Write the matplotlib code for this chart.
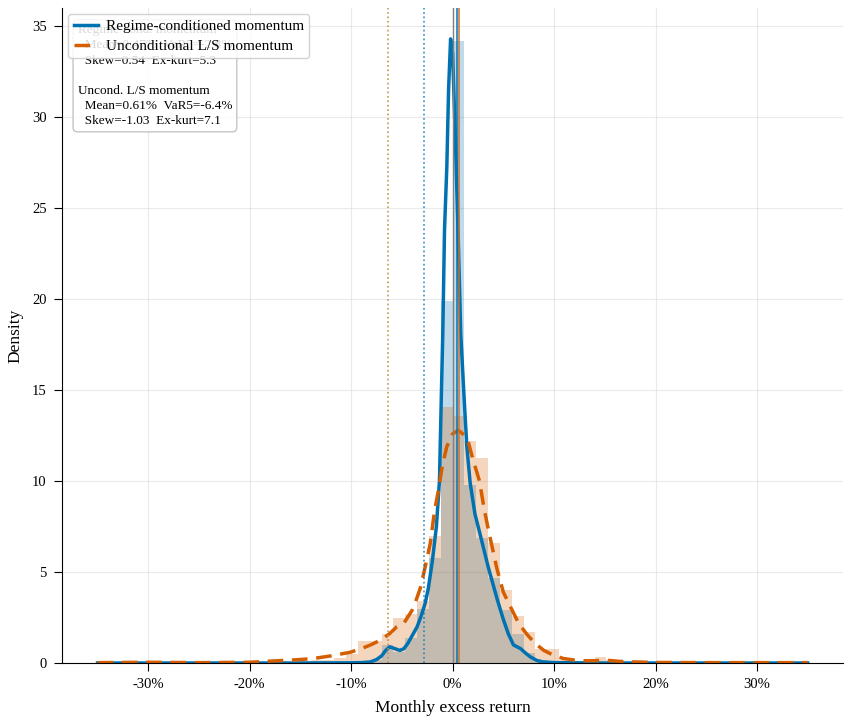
import numpy as np
import matplotlib
matplotlib.use("Agg")
import matplotlib.pyplot as plt
from matplotlib.ticker import FuncFormatter

plt.rcParams['font.family'] = ['Liberation Serif', 'DejaVu Serif']

# shared histogram bins (monthly return, %)
bin_edges = np.linspace(-35, 35, 61)

# histogram heights, one per bin (density)
regime_hist = [0]*22 + [0.05, 0.2, 1.0, 0.6, 1.4, 3.0, 5.8, 19.9,
                        34.2, 9.8, 6.9, 4.7, 2.9, 1.6, 0.55, 0.15, 0.05] + [0]*21
uncond_hist = ([0, 0, 0, 0, 0.05, 0, 0, 0, 0, 0.03, 0, 0, 0, 0, 0, 0.1, 0, 0.1,
                0.2, 0.2, 0.3, 0.5, 1.2, 1.2, 1.6, 2.5, 2.7, 3.4, 7.0, 14.1,
                13.6, 12.2, 11.3, 6.6, 4.0, 2.6, 1.7, 0.8, 0.8, 0.15, 0.1, 0.15,
                0.35, 0.2, 0.05, 0, 0, 0.03] + [0]*12)

# KDE curves
regime_kde_x = [-35, -25, -15, -10, -9, -8.1, -7.5, -7, -6.6, -6.2, -5.7, -5.2, -4.8,
                -4.4, -4.0, -3.5, -3.1, -2.7, -2.4, -2.0, -1.6, -1.3, -1.1, -0.97,
                -0.8, -0.57, -0.4, -0.2, 0.0, 0.2, 0.35, 0.57, 0.8, 1.0, 1.14, 1.4,
                1.73, 2.2, 2.7, 3.5, 4.4, 5.0, 5.5, 6.0, 6.7, 7.2, 7.65, 8.3, 8.9,
                10, 15, 35]
regime_kde_y = [0.01, 0.01, 0.01, 0.02, 0.03, 0.07, 0.2, 0.4, 0.7, 0.9, 0.8, 0.7, 0.8,
                1.1, 1.5, 2.0, 2.6, 3.3, 4.1, 5.6, 7.5, 10.0, 15.0, 18.1,
                23.8, 27.3, 31.5, 34.3, 33.5, 30.0, 27.3, 23.0, 18.1, 16.0, 14.5, 11.9,
                9.9, 8.2, 7.1, 5.3, 3.5, 2.4, 1.6, 1.0, 0.8, 0.55, 0.35, 0.15, 0.07,
                0.03, 0.01, 0.01]

uncond_kde_x = [-35, -30, -25, -20, -17.4, -15, -13.7, -12, -10.1, -9, -8.1, -7, -6.2,
                -5.5, -4.8, -4.0, -3.7, -3.2, -2.7, -2.2, -1.8, -1.4, -1.0, -0.57,
                0.0, 0.57, 1.0, 1.57, 2.0, 2.65, 3.1, 3.5, 4.36, 5.0, 5.7, 6.5, 7.3,
                8.1, 9.0, 10.0, 10.9, 12, 13.2, 14.2, 15.2, 16.5, 17.8, 20, 25, 30, 35]
uncond_kde_y = [0.03, 0.05, 0.03, 0.05, 0.13, 0.2, 0.26, 0.4, 0.6, 0.8, 1.0, 1.3, 1.63,
                2.0, 2.2, 2.9, 3.3, 4.1, 5.3, 6.6, 8.3, 9.5, 10.9, 11.9,
                12.6, 12.8, 12.6, 12.1, 11.2, 10.0, 8.5, 7.4, 5.2, 3.9, 3.1, 2.2, 1.6,
                1.1, 0.7, 0.42, 0.26, 0.17, 0.13, 0.14, 0.16, 0.1, 0.07, 0.04, 0.03, 0.03, 0.03]

regime_mean, regime_var5 = 0.47, -2.8
uncond_mean, uncond_var5 = 0.61, -6.4

stats_text = ("Regime-cond. momentum\n  Mean=0.47%  VaR5=-2.8%\n  Skew=0.54  Ex-kurt=5.3\n\n"
              "Uncond. L/S momentum\n  Mean=0.61%  VaR5=-6.4%\n  Skew=-1.03  Ex-kurt=7.1")

blue = '#0072B2'
orange = '#D55E00'

fig = plt.figure(figsize=(8.5, 7.24), dpi=100)
ax = fig.add_axes([0.073, 0.084, 0.919, 0.905])

centers = bin_edges[:-1]
ax.hist(centers, bins=bin_edges, weights=regime_hist, color=blue, alpha=0.25)
ax.hist(centers, bins=bin_edges, weights=uncond_hist, color=orange, alpha=0.25)

ax.plot(regime_kde_x, regime_kde_y, color=blue, lw=2.5, label='Regime-conditioned momentum')
ax.plot(uncond_kde_x, uncond_kde_y, color=orange, lw=2.5, ls=(0, (4.5, 2.5)),
        label='Unconditional L/S momentum')

ax.axvline(0, color='gray', lw=1)
ax.axvline(regime_mean, color=blue, lw=1.2, alpha=0.9)
ax.axvline(uncond_mean, color='#C8702E', lw=1.2, alpha=0.9)
ax.axvline(regime_var5, color=blue, lw=1.2, ls=':', alpha=0.8)
ax.axvline(uncond_var5, color='#C8883E', lw=1.2, ls=':', alpha=0.9)

ax.set_xlim(-38.5, 38.5)
ax.set_ylim(0, 36)
ax.set_xticks([-30, -20, -10, 0, 10, 20, 30])
ax.xaxis.set_major_formatter(FuncFormatter(lambda v, p: f"{v:.0f}%"))
ax.tick_params(labelsize=10.5, length=6, pad=5)
ax.set_xlabel('Monthly excess return', fontsize=12.5, labelpad=6)
ax.set_ylabel('Density', fontsize=12.5, labelpad=6)
ax.grid(True, color='#dddddd', lw=0.8, alpha=0.6)
ax.set_axisbelow(True)
for s in ['top', 'right']:
    ax.spines[s].set_visible(False)

# stats box sits under the legend, as in the original
ax.text(0.02, 0.975, stats_text, transform=ax.transAxes, va='top', ha='left', fontsize=9.5,
        linespacing=1.35,
        bbox=dict(boxstyle='round,pad=0.35', facecolor='white', edgecolor='#bbbbbb', alpha=0.85))
leg = ax.legend(loc='upper left', fontsize=11, framealpha=0.85, borderaxespad=0.4,
                handlelength=1.6, handletextpad=0.5, borderpad=0.35, labelspacing=0.4)

fig.savefig('out.png', dpi=100)
